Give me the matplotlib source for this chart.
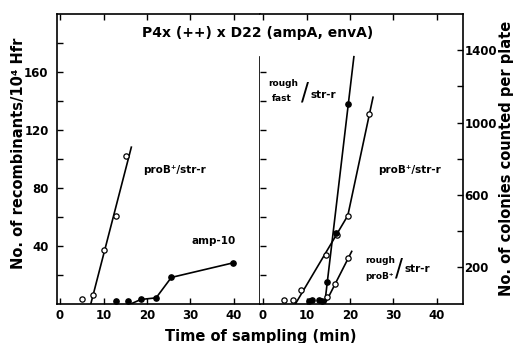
import matplotlib
matplotlib.use("Agg")
import matplotlib.pyplot as plt

# ---- left panel (recombinants / 10^4 Hfr) ----
t_prob_left = [5.0, 7.5, 10.0, 12.9, 15.2]
prob_left = [2.8, 6.2, 36.8, 60.7, 102]
t_prob_left_fit = [7.1, 16.4]
prob_left_fit = [0, 108]

t_amp = [12.9, 15.6, 18.6, 22.1, 25.6, 39.7]
amp = [1.6, 1.6, 2.8, 3.9, 18, 28]
t_amp_line = [16.5, 18.6, 22.1, 25.6, 39.7]
amp_line = [0, 2.8, 3.9, 18, 28]

# ---- right panel (colonies per plate) ----
t_prob_right = [4.8, 6.8, 8.8, 14.5, 17.0, 19.5, 24.3]
prob_right = [18, 22, 77, 270, 380, 486, 1045]
t_prob_right_line = [7.5, 19.5, 25.3]
prob_right_line = [0, 486, 1140]

t_rough_fast = [10.5, 11.3, 12.8, 13.6, 14.6, 16.7, 19.5]
rough_fast = [15, 18, 20, 15, 120, 390, 1100]
t_rough_fast_fit = [14.2, 20.9]
rough_fast_fit = [0, 1364]

t_rough_prob = [14.7, 16.6, 19.6]
rough_prob = [35, 110, 250]
t_rough_prob_fit = [14.3, 20.4]
rough_prob_fit = [0, 288]

xticks = [0, 10, 20, 30, 40]
left_major = [40, 80, 120, 160]
left_minor = [20, 60, 100, 140, 180]
mid_ticks = [20, 40, 60, 80, 100, 120, 140, 160]
right_major = [200, 600, 1000, 1400]
right_minor = [400, 800, 1200]

tick_fs = 8.5
lw = 1.2
open_m = dict(marker='o', ms=3.8, mfc='white', mec='black', mew=0.9, ls='none')
fill_m = dict(marker='o', ms=3.8, mfc='black', mec='black', ls='none')

fig = plt.figure(figsize=(5.15, 3.43), dpi=100)
ax1 = fig.add_axes([57/515, 39.5/343, 203/515, 289.5/343])
ax2 = fig.add_axes([260/515, 39.5/343, 203/515, 289.5/343])

for ax in (ax1, ax2):
    ax.set_xlim(-0.7, 46)
    ax.set_xticks(xticks)
    ax.tick_params(axis='x', direction='in', top=True, length=4, width=1,
                   pad=4, labelsize=tick_fs)
    for s in ax.spines.values():
        s.set_linewidth(1.2)
    for lab in ax.get_xticklabels():
        lab.set_fontweight('bold')

# left panel
ax1.set_ylim(0, 200)
ax1.set_yticks(left_major)
ax1.set_yticks(left_minor, minor=True)
ax1.tick_params(axis='y', which='both', direction='in', length=4, width=1,
                pad=6, labelsize=tick_fs)
ax1.spines['right'].set_bounds(0, 170)
for lab in ax1.get_yticklabels():
    lab.set_fontweight('bold')

ax1.plot(t_prob_left_fit, prob_left_fit, color='black', lw=lw)
ax1.plot(t_prob_left, prob_left, **open_m)
ax1.plot(t_amp_line, amp_line, color='black', lw=lw)
ax1.plot(t_amp, amp, **fill_m)

ann = dict(fontsize=7.5, fontweight='bold', va='center')
small = dict(fontsize=6.5, fontweight='bold', va='center')
slash = dict(fontsize=17, va='center', ha='center')

ax1.text(19.2, 92, 'proB\u207a/str-r', **ann)
ax1.text(35.3, 43, 'amp-10', ha='center', **ann)

# ticks crossing the middle divider
mid = ax1.twinx()
mid.set_ylim(0, 200)
mid.set_yticks(mid_ticks)
mid.tick_params(axis='y', direction='out', length=4, width=1,
                labelright=False)
for s in mid.spines.values():
    s.set_visible(False)

# right panel
ax2.spines['left'].set_visible(False)
ax2.set_ylim(0, 1600)
ax2.yaxis.tick_right()
ax2.set_yticks(right_major)
ax2.set_yticks(right_minor, minor=True)
ax2.tick_params(axis='y', which='both', direction='in', length=4, width=1,
                pad=1, labelsize=tick_fs)
for lab in ax2.get_yticklabels():
    lab.set_fontweight('bold')

ax2.plot(t_prob_right_line, prob_right_line, color='black', lw=lw)
ax2.plot(t_rough_fast_fit, rough_fast_fit, color='black', lw=lw)
ax2.plot(t_rough_prob_fit, rough_prob_fit, color='black', lw=lw)
ax2.plot(t_prob_right, prob_right, **open_m)
ax2.plot(t_rough_prob, rough_prob, **open_m)
ax2.plot(t_rough_fast, rough_fast, **fill_m)

ax2.text(1.2, 1215, 'rough', **small)
ax2.text(2.0, 1135, 'fast', **small)
ax2.text(9.6, 1168, '/', **slash)
ax2.text(11.0, 1150, 'str-r', **ann)

ax2.text(26.5, 737, 'proB\u207a/str-r', **ann)

ax2.text(23.6, 236, 'rough', **small)
ax2.text(23.6, 148, 'proB\u207a', **small)
ax2.text(31.3, 195, '/', **slash)
ax2.text(32.6, 190, 'str-r', **ann)

# labels and title
fig.text(258/515, 1 - 33/343, 'P4x (++) x D22 (ampA, envA)',
         fontsize=10, fontweight='bold', ha='center', va='center')
fig.text(19/515, 1 - 153/343, 'No. of recombinants/10\u2074 Hfr',
         fontsize=10.5, fontweight='bold', rotation=90,
         ha='center', va='center')
fig.text(506/515, 1 - 158/343, 'No. of colonies counted per plate',
         fontsize=10.5, fontweight='bold', rotation=90,
         ha='center', va='center')
fig.text(261/515, 1 - 337/343, 'Time of sampling (min)',
         fontsize=10.5, fontweight='bold', ha='center', va='center')

fig.savefig('out.png', dpi=100)
